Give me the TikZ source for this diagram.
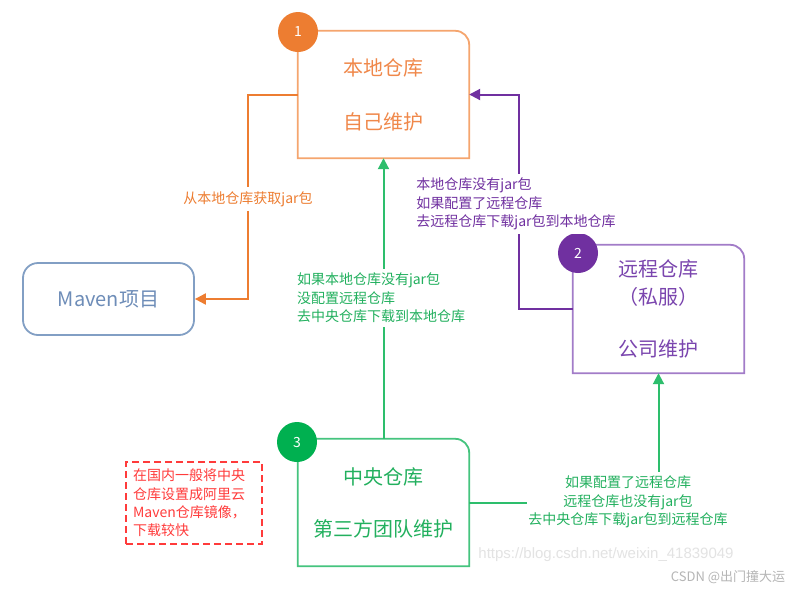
\documentclass[tikz,border=0pt]{standalone}
\usepackage{fontspec}
\setmainfont{Noto Sans CJK SC}
\newfontfamily\wmfont{Liberation Sans}
\usetikzlibrary{arrows.meta}
\definecolor{locorange}{HTML}{ED7D31}
\definecolor{locedge}{HTML}{F5A56E}
\definecolor{loctext}{HTML}{F0884A}
\definecolor{rempurple}{HTML}{7030A0}
\definecolor{remedge}{HTML}{A27CC8}
\definecolor{remtext}{HTML}{7A45AE}
\definecolor{centgreen}{HTML}{00B050}
\definecolor{centedge}{HTML}{45C47E}
\definecolor{centline}{HTML}{2DBE6C}
\definecolor{centtext}{HTML}{22B05E}
\definecolor{mavedge}{HTML}{829FC4}
\definecolor{mavtext}{HTML}{6E8DB8}
\definecolor{notered}{HTML}{FF3B3B}
\definecolor{wmgray}{HTML}{E3E3E3}
\definecolor{csdngray}{HTML}{B5B5B5}

\begin{document}
\begin{tikzpicture}[x=1pt,y=-1pt,
  every node/.style={inner sep=0pt},
  repbox/.style={minimum width=171pt,minimum height=127pt,align=center,font=\fontsize{20}{28}\selectfont},
  numdot/.style={circle,minimum size=40pt,text=white,font=\fontsize{14}{14}\selectfont},
  lab/.style={fill=white,inner xsep=1pt,inner ysep=4pt,font=\fontsize{14}{18.5}\selectfont},
  conn/.style={line width=2pt},
  arr/.style={-{Triangle[length=11pt,width=11pt]}}]
\useasboundingbox (0,0) rectangle (799,590);
\fill[white] (0,0) rectangle (799,590);
\node[repbox,text=loctext] (local) at (383.5,94.5) {本地仓库\\[26pt]自己维护};
\draw[locedge,line width=1.8pt] (local.south west) -- (local.north west) [rounded corners=14pt] -- (local.north east) [sharp corners] -- (local.south east) -- cycle;
\node[numdot,fill=locorange] (n1) at (298,32) {1};
\node[repbox,minimum height=128pt,text=remtext] (remote) at (658.5,309) {远程仓库\\（私服）\\[24pt]公司维护};
\draw[remedge,line width=1.8pt] (remote.south west) -- (remote.north west) [rounded corners=14pt] -- (remote.north east) [sharp corners] -- (remote.south east) -- cycle;
\node[numdot,fill=rempurple] (n2) at (578,253) {2};
\node[repbox,text=centtext] (central) at (383.5,502.5) {中央仓库\\[24pt]第三方团队维护};
\draw[centedge,line width=1.8pt] (central.south west) -- (central.north west) [rounded corners=14pt] -- (central.north east) [sharp corners] -- (central.south east) -- cycle;
\node[numdot,fill=centgreen] (n3) at (297,442) {3};
\node[draw=mavedge,line width=1.8pt,rounded corners=15pt,minimum width=171pt,minimum height=72pt,text=mavtext,font=\fontsize{20}{24}\selectfont] (maven) at (108.5,299) {Maven项目};
\node[draw=notered,line width=1.5pt,dash pattern=on 7pt off 4pt,text=notered,align=left,text width=122pt,inner xsep=7pt,minimum height=82pt,font=\fontsize{14}{18.3}\selectfont] (note) at (194,503) {在国内一般将中央\\仓库设置成阿里云\\Maven仓库镜像，\\下载较快};
\node[lab,text=locorange] (getlab) at (248,199) {从本地仓库获取jar包};
\node[lab,text=rempurple,align=left] (purplab) at (516,204) {本地仓库没有jar包\\如果配置了远程仓库\\去远程仓库下载jar包到本地仓库};
\node[lab,text=centtext,align=left] (centlab) at (381,298) {如果本地仓库没有jar包\\没配置远程仓库\\去中央仓库下载到本地仓库};
\node[lab,text=centtext,align=center] (remlab) at (628,502) {如果配置了远程仓库\\远程仓库也没有jar包\\去中央仓库下载jar包到远程仓库};
\draw[conn,locorange] (local.west) -| (getlab.north);
\draw[conn,locorange,arr] (getlab.south) |- (maven.east);
\draw[conn,rempurple] (remote.west) -| ([xshift=3pt]purplab.south);
\draw[conn,rempurple,arr] ([xshift=3pt]purplab.north) |- (local.east);
\draw[conn,centline] (central.north) -- (central.north |- centlab.south);
\draw[conn,centline,arr] (central.north |- centlab.north) -- (local.south);
\draw[conn,centline] (central.east) -- (remlab.west |- central.east);
\draw[conn,centline,arr] (remote.south |- remlab.north) -- (remote.south);
\node[text=wmgray,font=\wmfont\fontsize{15}{15}\selectfont] (wm) at (606,555) {https://blog.csdn.net/weixin\_41839049};
\node[text=csdngray,font=\fontsize{13}{13}\selectfont] (csdn) at (728,577) {CSDN @出门撞大运};
\end{tikzpicture}
\end{document}
